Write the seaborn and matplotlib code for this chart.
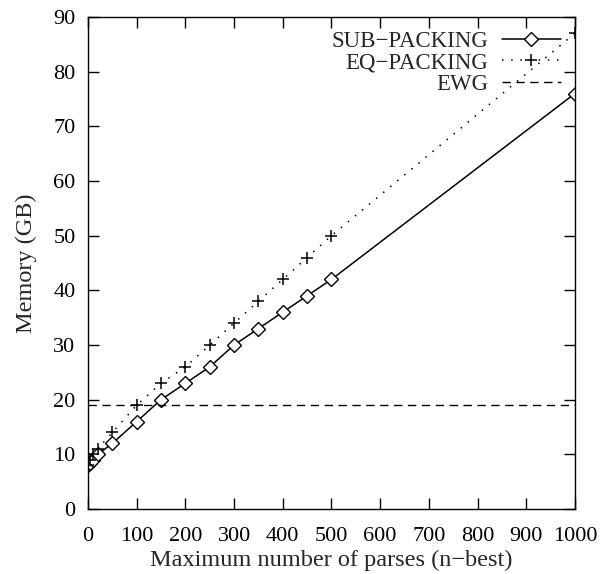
import matplotlib
matplotlib.use("Agg")
import matplotlib.pyplot as plt
import seaborn as sns

# n-best sizes and memory in GB
nbest = [1, 5, 10, 20, 50, 100, 150, 200, 250, 300, 350, 400, 450, 500, 1000]
sub_packing = [8, 8.5, 9, 10, 12, 16, 20, 23, 26, 30, 33, 36, 39, 42, 76]
eq_packing = [8, 9, 10, 11, 14, 19, 23, 26, 30, 34, 38, 42, 46, 50, 87]
ewg_x = [0, 1000]
ewg_y = [19, 19]

x_ticks = list(range(0, 1001, 100))
y_ticks = list(range(0, 91, 10))

sns.set_style("ticks")
plt.rcParams["font.family"] = ["Liberation Serif", "DejaVu Serif"]

TICK_FS = 16
LABEL_FS = 17.5
LEGEND_FS = 16.5

fig = plt.figure(figsize=(6.09, 5.74), dpi=100)
ax = fig.add_axes([0.1445, 0.1132, 0.7995, 0.8572])

sns.lineplot(x=nbest, y=sub_packing, ax=ax, color="black", lw=1.1,
             marker="D", markersize=7, markerfacecolor="white",
             markeredgecolor="black", markeredgewidth=1.0,
             label="SUB\u2212PACKING")
sns.lineplot(x=nbest, y=eq_packing, ax=ax, color="black", lw=1.1,
             linestyle=(0, (1, 5)), marker="+", markersize=9,
             markeredgecolor="black", markeredgewidth=1.1,
             label="EQ\u2212PACKING")
sns.lineplot(x=ewg_x, y=ewg_y, ax=ax, color="black", lw=1.0,
             linestyle=(0, (6, 4)), label="EWG")

ax.set_xlim(0, 1000)
ax.set_ylim(0, 90)
ax.set_xticks(x_ticks)
ax.set_yticks(y_ticks)
ax.tick_params(direction="in", length=8, width=1, top=True, right=True,
               labelsize=TICK_FS, colors="black")
ax.tick_params(axis="x", pad=13)
ax.tick_params(axis="y", pad=9)
for s in ax.spines.values():
    s.set_visible(True)
    s.set_linewidth(1.0)
    s.set_color("black")

ax.set_xlabel("Maximum number of parses (n\u2212best)", fontsize=LABEL_FS, labelpad=3)
ax.set_ylabel("Memory (GB)", fontsize=LABEL_FS, labelpad=12)

leg = ax.legend(loc="upper right", markerfirst=False, frameon=False,
                fontsize=LEGEND_FS, handlelength=2.6, handletextpad=0.6,
                labelspacing=0.02, borderpad=0.2, borderaxespad=0.4,
                numpoints=1)

fig.savefig("out.png", dpi=100)
